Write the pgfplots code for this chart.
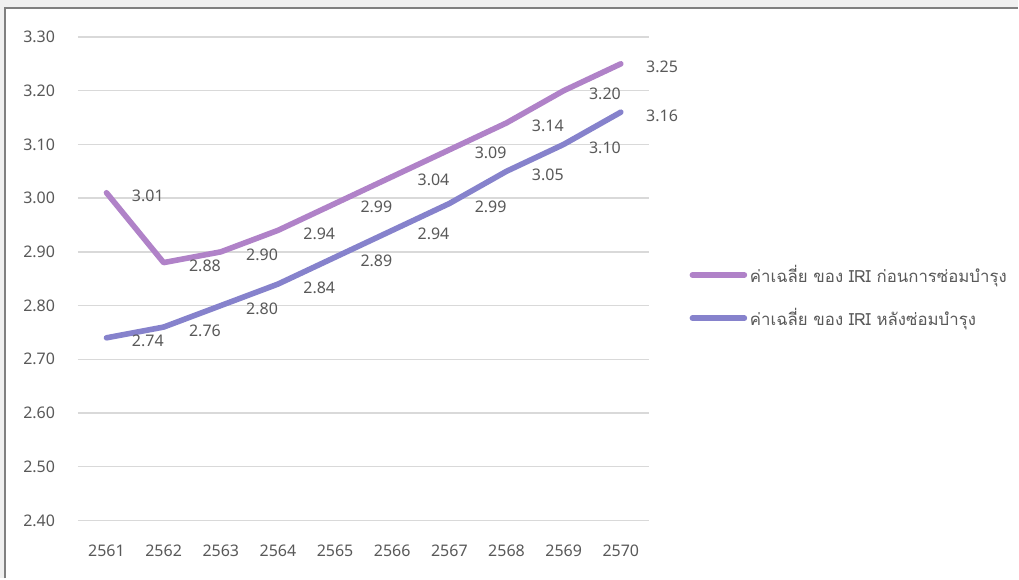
\documentclass[border=0pt]{standalone}
\usepackage{fontspec}
\setmainfont{Noto Sans}
\newfontfamily\thaifont[Script=Thai]{Loma}
\usepackage{pgfplots}
\pgfplotsset{compat=1.18}
\definecolor{serA}{RGB}{176,130,200}
\definecolor{serB}{RGB}{134,130,204}
\definecolor{txt}{RGB}{89,89,89}
\definecolor{gridc}{RGB}{217,217,217}
\definecolor{frame}{RGB}{128,128,128}
\definecolor{strip}{RGB}{240,240,240}
\begin{document}
\begin{tikzpicture}
\fill[white] (0,0) rectangle (764.25pt,434.25pt);
\fill[strip] (0,428.6pt) rectangle (764.25pt,434.25pt);
\fill[strip] (0,0) rectangle (3pt,434.25pt);
\draw[frame, line width=1.5pt] (3.75pt,0) -- (3.75pt,427.9pt) -- (764.25pt,427.9pt);
\begin{axis}[
  at={(58.5pt,43.5pt)}, anchor=south west,
  scale only axis, width=429pt, height=363pt,
  xmin=-0.5, xmax=9.5, ymin=2.4, ymax=3.3,
  xtick={0,1,2,3,4,5,6,7,8,9},
  xticklabels={2561,2562,2563,2564,2565,2566,2567,2568,2569,2570},
  ytick={2.4,2.5,2.6,2.7,2.8,2.9,3.0,3.1,3.2,3.3},
  axis line style={draw=none},
  major tick length=0pt,
  ymajorgrids, grid style={gridc, line width=1pt},
  clip=false,
  tick label style={font=\fontsize{12}{14}\selectfont, text=txt},
  /pgf/number format/assume math mode=true,
  yticklabel style={/pgf/number format/fixed, /pgf/number format/fixed zerofill, /pgf/number format/precision=2},
  yticklabel style={anchor=east, inner sep=0pt, xshift=-17pt},
  xticklabel style={anchor=north, inner sep=0pt, yshift=-18pt},
  nodes near coords={\pgfmathprintnumber[fixed,fixed zerofill,precision=2,assume math mode=true]{\pgfplotspointmeta}},
  every node near coord/.append style={anchor=west, inner sep=0pt, xshift=17pt, yshift=-2.5pt, font=\fontsize{12}{14}\selectfont, text=txt},
  legend style={at={(1.07,0.463)}, anchor=west, draw=none, fill=none, font=\thaifont\fontsize{12.6}{15}\selectfont, text=txt, row sep=14pt, inner sep=0pt},
  legend cell align=left,
  legend image code/.code={\draw[#1, line width=4.2pt, line cap=round] (0pt,0pt) -- (39pt,0pt);},
]
\addplot[serA, line width=4.2pt, line join=round, line cap=round] coordinates {
 (0,3.01) (1,2.88) (2,2.90) (3,2.94) (4,2.99) (5,3.04) (6,3.09) (7,3.14) (8,3.20) (9,3.25)};
\addlegendentry{ค่าเฉลี่ย ของ IRI ก่อนการซ่อมบำรุง}
\addplot[serB, line width=4.2pt, line join=round, line cap=round] coordinates {
 (0,2.74) (1,2.76) (2,2.80) (3,2.84) (4,2.89) (5,2.94) (6,2.99) (7,3.05) (8,3.10) (9,3.16)};
\addlegendentry{ค่าเฉลี่ย ของ IRI หลังซ่อมบำรุง}
\end{axis}
\end{tikzpicture}
\end{document}
